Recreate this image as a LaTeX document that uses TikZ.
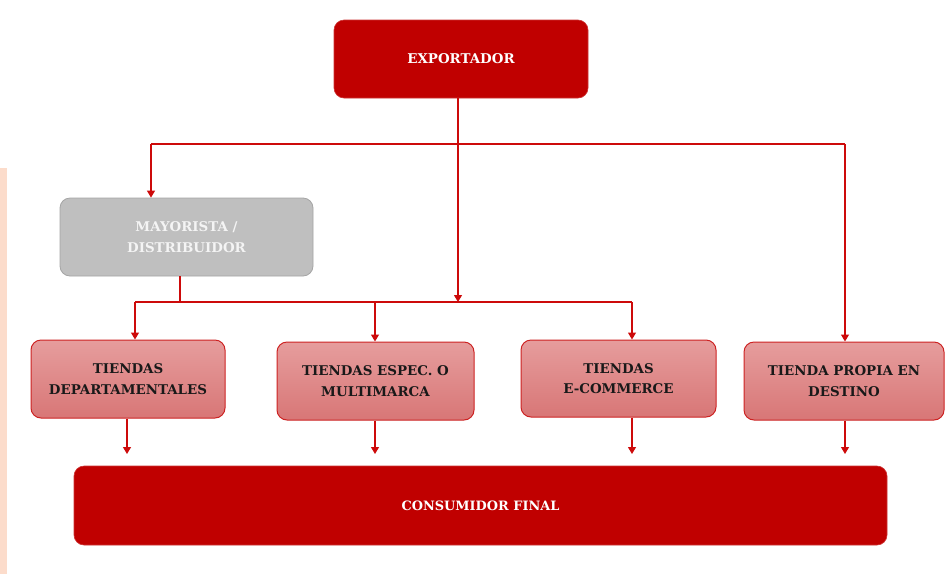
\documentclass[tikz,border=0pt]{standalone}
\usepackage{fontspec}
\setmainfont{DejaVu Serif}
\usetikzlibrary{arrows.meta}
\definecolor{darkred}{RGB}{192,0,0}
\definecolor{linered}{RGB}{205,10,10}
\definecolor{grayfill}{RGB}{191,191,191}
\definecolor{grayborder}{RGB}{165,165,165}
\definecolor{graytext}{RGB}{244,244,244}
\definecolor{pinktop}{RGB}{230,157,157}
\definecolor{pinkbot}{RGB}{216,118,118}
\definecolor{pinkborder}{RGB}{205,35,35}
\definecolor{peach}{RGB}{252,220,203}
\begin{document}
\begin{tikzpicture}[x=1pt,y=-1pt,
  basebox/.style={rounded corners=10pt, align=center, inner sep=0pt,
    font=\bfseries\fontsize{13.4}{20.5}\selectfont},
  redbox/.style={basebox, fill=darkred, draw=darkred!80!white, line width=0.6pt, text=white},
  graybox/.style={basebox, fill=grayfill, draw=grayborder, line width=0.8pt, text=graytext},
  pinkbox/.style={basebox, top color=pinktop, bottom color=pinkbot, draw=pinkborder, line width=1pt, text=black!90},
  conn/.style={draw=linered, line width=1.1pt},
  arr/.style={conn, -{Triangle[width=8pt,length=7pt]}}
]
\useasboundingbox (0,0) rectangle (950,574);
\fill[white] (0,0) rectangle (950,574);
\fill[peach] (0,168) rectangle (7,574);

\node[redbox, minimum width=254pt, minimum height=78pt] (exp) at (461,59) {EXPORTADOR};
\node[graybox, minimum width=253pt, minimum height=78pt] (may) at (186.5,237) {MAYORISTA /\\DISTRIBUIDOR};
\node[pinkbox, minimum width=194pt, minimum height=78pt] (dep) at (128,379) {TIENDAS\\DEPARTAMENTALES};
\node[pinkbox, minimum width=197pt, minimum height=78pt] (esp) at (375.5,381) {TIENDAS ESPEC. O\\MULTIMARCA};
\node[pinkbox, minimum width=195pt, minimum height=77pt] (ecom) at (618.5,378.5) {TIENDAS\\E-COMMERCE};
\node[pinkbox, minimum width=200pt, minimum height=78pt] (prop) at (844,381) {TIENDA PROPIA EN\\DESTINO};
\node[redbox, minimum width=813pt, minimum height=79pt, font=\bfseries\fontsize{12.9}{15}\selectfont] (cons) at (480.5,505.5) {CONSUMIDOR FINAL};

% upper distribution line
\coordinate (tl) at (151,144);
\coordinate (tr) at (845,144);
\draw[conn] (tl) -- (tr);
\draw[arr] (tl) -- (tl |- may.north);
\draw[arr] (tr) -- (tr |- prop.north);

% lower distribution line
\coordinate (bl) at (135,302);
\coordinate (br) at (632,302);
\coordinate (bm) at (375,302);
\coordinate (mj) at (180,302);
\coordinate (ej) at (458,302);
\draw[conn] (bl) -- (br);
\draw[conn] (may.south -| mj) -- (mj);
\draw[arr] (exp.south -| ej) -- (ej);
\draw[arr] (bl) -- (bl |- dep.north);
\draw[arr] (bm) -- (bm |- esp.north);
\draw[arr] (br) -- (br |- ecom.north);

% to consumer
\coordinate (c1) at (127,454);
\coordinate (c2) at (375,454);
\coordinate (c3) at (632,454);
\coordinate (c4) at (845,454);
\draw[arr] (dep.south -| c1) -- (c1);
\draw[arr] (esp.south -| c2) -- (c2);
\draw[arr] (ecom.south -| c3) -- (c3);
\draw[arr] (prop.south -| c4) -- (c4);
\end{tikzpicture}
\end{document}
